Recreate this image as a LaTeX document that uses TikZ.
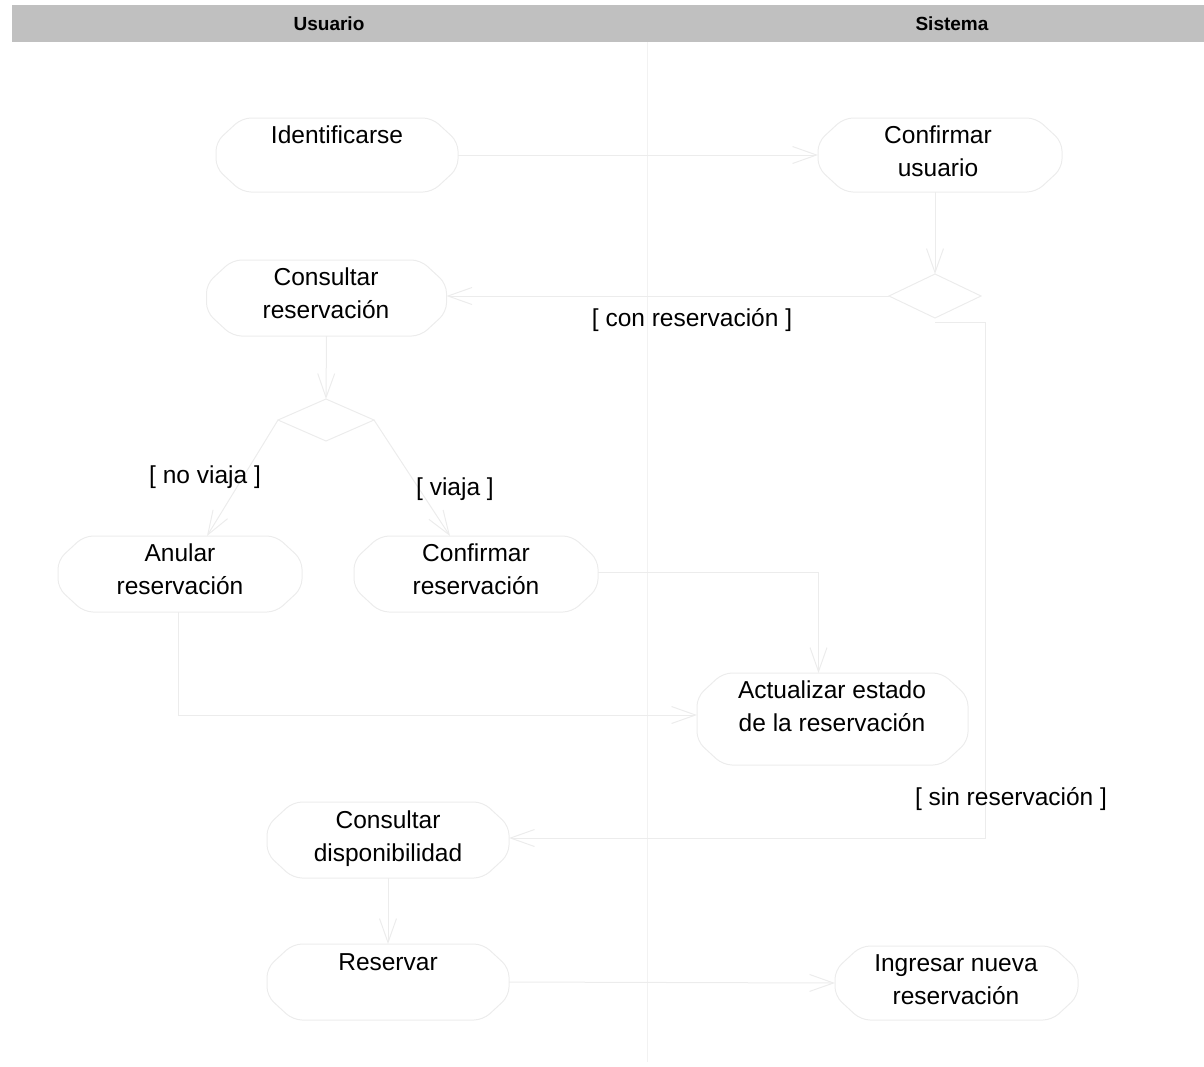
\documentclass[tikz,border=0pt]{standalone}
\usepackage{fontspec}
\setmainfont{Liberation Sans}
\usetikzlibrary{arrows.meta}
\definecolor{lanebar}{RGB}{192,192,192}
\definecolor{faint}{RGB}{236,236,236}

% octagonal outline of an activity box, drawn round a rectangle node
\newcommand\actoutline[1]{%
  \draw[faintline,rounded corners=9pt] ([xshift=26pt]#1.north west) -- ([xshift=-26pt]#1.north east)
    -- ([yshift=-24pt]#1.north east) -- ([yshift=24pt]#1.south east)
    -- ([xshift=-26pt]#1.south east) -- ([xshift=26pt]#1.south west)
    -- ([yshift=24pt]#1.south west) -- ([yshift=-24pt]#1.north west) -- cycle;}
% decision diamond drawn round a rectangle node
\newcommand\decoutline[1]{%
  \draw[faintline] (#1.north) -- (#1.east) -- (#1.south) -- (#1.west) -- cycle;}

\begin{document}
\begin{tikzpicture}[x=1pt,y=-1pt,
  faintline/.style={draw=faint,line width=1pt},
  flow/.style={faintline,-{Straight Barb[length=24pt,width=17pt]}},
  actbox/.style={rectangle,draw=none,inner sep=0pt,outer sep=0pt,minimum width=242pt,minimum height=74pt},
  decbox/.style={rectangle,draw=none,inner sep=0pt,outer sep=0pt},
  acttext/.style={font=\fontsize{24.5}{33}\selectfont,align=center,inner sep=0pt,anchor=north},
  guard/.style={font=\fontsize{24.5}{33}\selectfont,inner sep=0pt,anchor=base},
  lanehead/.style={font=\fontsize{19}{22}\selectfont\bfseries,inner sep=0pt}]
\useasboundingbox (0,0) rectangle (1204,1066);

% swimlane header and divider
\fill[lanebar] (12,5) rectangle (1204,42);
\node[lanehead] (hU) at (329,24) {Usuario};
\node[lanehead] (hS) at (952,24) {Sistema};
\draw[draw=faint!70,line width=1pt] (647,42) -- (647,1062);

% activity boxes
\node[actbox] (ident) at (337,155) {};
\node[actbox,minimum width=244pt] (confu) at (940,155) {};
\node[actbox,minimum width=240pt,minimum height=76pt] (consr) at (326.5,298) {};
\node[actbox,minimum width=244pt,minimum height=76pt] (anular) at (180,574) {};
\node[actbox,minimum width=244pt,minimum height=76pt] (confr) at (476,574) {};
\node[actbox,minimum width=271pt,minimum height=92pt] (actual) at (832.5,719) {};
\node[actbox,minimum width=242pt,minimum height=76pt] (cdisp) at (388,840) {};
\node[actbox,minimum width=242pt,minimum height=76pt] (reserv) at (388,982) {};
\node[actbox,minimum width=243pt,minimum height=74pt] (ingres) at (956.5,983) {};
\foreach \n in {ident,confu,consr,anular,confr,actual,cdisp,reserv,ingres} {\actoutline{\n}}

% decisions
\node[decbox,minimum width=92pt,minimum height=44pt] (d1) at (935,296) {};
\node[decbox,minimum width=96pt,minimum height=42pt] (d2) at (326,420) {};
\decoutline{d1}
\decoutline{d2}

% activity texts
\node[acttext] (identT) at (337,123) {\rule{0pt}{20pt}Identificarse};
\node[acttext] (confuT) at (938,123) {\rule{0pt}{20pt}Confirmar\\usuario};
\node[acttext] (consrT) at (326,265) {\rule{0pt}{20pt}Consultar\\reservación};
\node[acttext] (anularT) at (180,541) {\rule{0pt}{20pt}Anular\\reservación};
\node[acttext] (confrT) at (476,541) {\rule{0pt}{20pt}Confirmar\\reservación};
\node[acttext] (actualT) at (832,678) {\rule{0pt}{20pt}Actualizar estado\\de la reservación};
\node[acttext] (cdispT) at (388,808) {\rule{0pt}{20pt}Consultar\\disponibilidad};
\node[acttext] (reservT) at (388,950) {\rule{0pt}{20pt}Reservar};
\node[acttext] (ingresT) at (956,951) {\rule{0pt}{20pt}Ingresar nueva\\reservación};

% flows
\coordinate (sinc) at (985,838);
\draw[flow] (ident.east) -- (confu.west);
\draw[flow] (d1.north |- confu.south) -- (d1.north);
\draw[flow] (d1.west) -- (consr.east |- d1.west);
\draw[flow] ([yshift=-4pt]d1.south) -| (sinc) -- (cdisp.east |- sinc);
\draw[flow] (consr.south) -- (d2.north);
\draw[flow] (d2.west) -- ([xshift=27pt]anular.north);
\draw[flow] (d2.east) -- ([xshift=-26pt]confr.north);
\draw[flow] ([yshift=2pt]confr.east) -| ([xshift=-14pt]actual.north);
\draw[flow] ([xshift=-2pt]anular.south) |- ([yshift=4pt]actual.west);
\draw[flow] (cdisp.south) -- (reserv.north);
\draw[flow] (reserv.east) -- (ingres.west);

% guards
\node[guard] (gcon) at (692,326) {[ con reservación ]};
\node[guard] (gsin) at (1011,805) {[ sin reservación ]};
\node[guard] (gno) at (205,483) {[ no viaja ]};
\node[guard] (gsi) at (455,495) {[ viaja ]};
\end{tikzpicture}
\end{document}
